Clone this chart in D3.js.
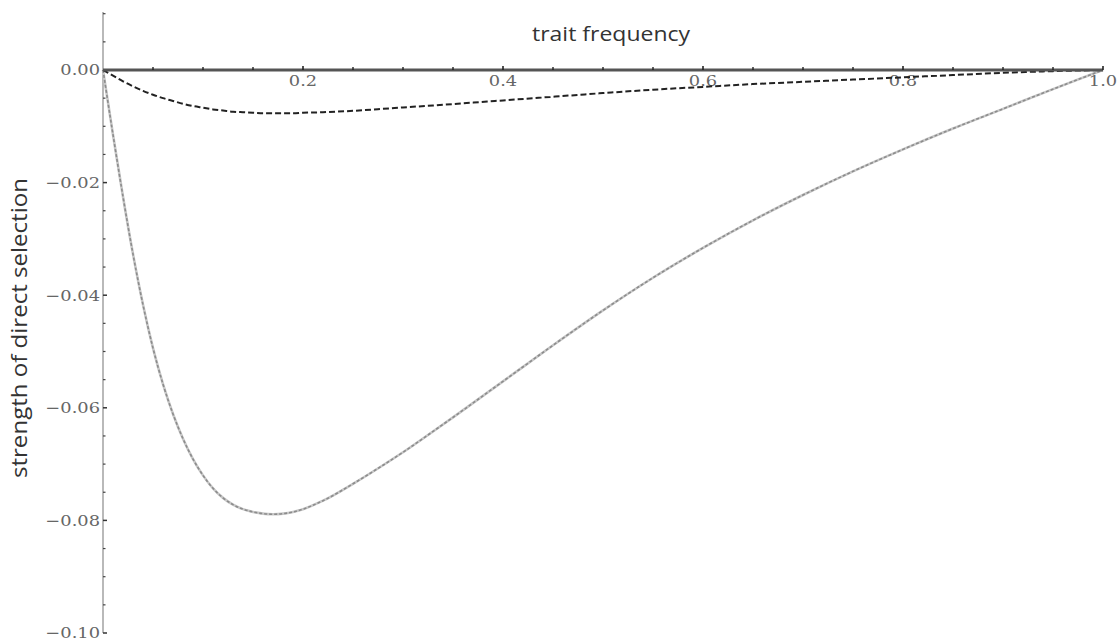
<!DOCTYPE html>
<html>
<head>
<meta charset="utf-8">
<script src="https://cdn.jsdelivr.net/npm/d3@7"></script>
<style>
  html, body { margin: 0; padding: 0; background: #fff; }
  svg { display: block; }
</style>
</head>
<body>
<svg id="chart" width="1118" height="643"></svg>
<script>
// ---- data ----
const freqs = [0, 0.01, 0.02, 0.03, 0.04, 0.05, 0.06, 0.07, 0.08, 0.09, 0.10, 0.11, 0.12, 0.13, 0.14, 0.15, 0.16, 0.17, 0.18, 0.19, 0.20, 0.22, 0.25, 0.28, 0.30, 0.33, 0.35, 0.40, 0.45, 0.50, 0.55, 0.60, 0.65, 0.70, 0.75, 0.80, 0.85, 0.90, 0.95, 1.00];
const strongSelection = [0, -0.0115, -0.0225, -0.0327, -0.0417, -0.0494, -0.0558, -0.0611, -0.0655, -0.0691, -0.0720, -0.0743, -0.0760, -0.0772, -0.0780, -0.0785, -0.0788, -0.0789, -0.0788, -0.0785, -0.0780, -0.0765, -0.0735, -0.0702, -0.0679, -0.0642, -0.0617, -0.0553, -0.0489, -0.0427, -0.0369, -0.0316, -0.0267, -0.0222, -0.0180, -0.0141, -0.0104, -0.0069, -0.0034, 0];
const weakSelection = [0, -0.0010, -0.0020, -0.0029, -0.0037, -0.0044, -0.0050, -0.0055, -0.0060, -0.0064, -0.0067, -0.0070, -0.0072, -0.0074, -0.0075, -0.0076, -0.0077, -0.0077, -0.0077, -0.0077, -0.0076, -0.0075, -0.00725, -0.0069, -0.00665, -0.0063, -0.00605, -0.0054, -0.00475, -0.0041, -0.0035, -0.0030, -0.0025, -0.0021, -0.0017, -0.0013, -0.0009, -0.0005, -0.0002, 0];
const noSelectionFreqs = [0, 1];
const noSelection = [0, 0];

const xMajorTicks = [0.2, 0.4, 0.6, 0.8, 1.0];
const xMajorLabels = ["0.2", "0.4", "0.6", "0.8", "1.0"];
const yMajorTicks = [0.00, -0.02, -0.04, -0.06, -0.08, -0.10];
const yMajorLabels = ["0.00", "\u22120.02", "\u22120.04", "\u22120.06", "\u22120.08", "\u22120.10"];
const xTitle = "trait frequency";
const yTitle = "strength of direct selection";

// ---- layout ----
const svg = d3.select("#chart");
const x = d3.scaleLinear().domain([0, 1]).range([103, 1103]);
const y = d3.scaleLinear().domain([-0.10, 0]).range([633, 70]);
const yTop = 0.0103;

const tickFont = "'DejaVu Serif', 'Liberation Serif', serif";
const titleFont = "'Open Sans', 'Noto Sans', sans-serif";
const tickStretch = 1.15;

function stretch(sel, factor) {
  sel.each(function () {
    const len = this.getComputedTextLength();
    d3.select(this).attr("textLength", len * factor).attr("lengthAdjust", "spacingAndGlyphs");
  });
}

// minor tick values
const xMinor = d3.range(1, 20).map(i => i * 0.05).filter(v => !xMajorTicks.some(m => Math.abs(m - v) < 1e-9));
const yMinor = d3.range(-20, 3).map(i => i * 0.005).filter(v => !yMajorTicks.some(m => Math.abs(m - v) < 1e-9));

// y axis line
svg.append("line")
  .attr("x1", x(0)).attr("x2", x(0))
  .attr("y1", y(yTop)).attr("y2", y(-0.10))
  .attr("stroke", "#8a8a8a").attr("stroke-width", 1.2);

// y ticks
svg.append("g").selectAll("line").data(yMajorTicks).join("line")
  .attr("x1", x(0)).attr("x2", x(0) + 4)
  .attr("y1", d => y(d)).attr("y2", d => y(d))
  .attr("stroke", "#333").attr("stroke-width", 1.5);
svg.append("g").selectAll("line").data(yMinor).join("line")
  .attr("x1", x(0)).attr("x2", x(0) + 2.5)
  .attr("y1", d => y(d)).attr("y2", d => y(d))
  .attr("stroke", "#444").attr("stroke-width", 1.2);

// y tick labels
svg.append("g").selectAll("text").data(yMajorTicks).join("text")
  .attr("x", x(0) - 3)
  .attr("y", d => y(d))
  .attr("dy", "0.35em")
  .attr("text-anchor", "end")
  .attr("font-family", tickFont)
  .attr("font-size", 15.5)
  .attr("fill", "#666")
  .text((d, i) => yMajorLabels[i])
  .call(stretch, tickStretch);

// x axis line
svg.append("line")
  .attr("x1", x(0)).attr("x2", x(1))
  .attr("y1", y(0)).attr("y2", y(0))
  .attr("stroke", "#8a8a8a").attr("stroke-width", 1.2);

// x tick labels
svg.append("g").selectAll("text").data(xMajorTicks).join("text")
  .attr("x", d => x(d))
  .attr("y", y(0) + 16)
  .attr("text-anchor", "middle")
  .attr("font-family", tickFont)
  .attr("font-size", 15.5)
  .attr("fill", "#666")
  .text((d, i) => xMajorLabels[i])
  .call(stretch, tickStretch);

// series lines
const line = d3.line()
  .x(d => x(d[0]))
  .y(d => y(d[1]))
  .curve(d3.curveMonotoneX);

const strongPts = freqs.map((f, i) => [f, strongSelection[i]]);
const weakPts = freqs.map((f, i) => [f, weakSelection[i]]);
const zeroPts = noSelectionFreqs.map((f, i) => [f, noSelection[i]]);

svg.append("path").datum(strongPts)
  .attr("d", line).attr("fill", "none")
  .attr("stroke", "#c8c8c8").attr("stroke-width", 2.6);
svg.append("path").datum(strongPts)
  .attr("d", line).attr("fill", "none")
  .attr("stroke", "#8c8c8c").attr("stroke-width", 1.6)
  .attr("stroke-dasharray", "3,2");

svg.append("path").datum(weakPts)
  .attr("d", line).attr("fill", "none")
  .attr("stroke", "#222").attr("stroke-width", 2)
  .attr("stroke-dasharray", "6,3");

svg.append("path").datum(zeroPts)
  .attr("d", line).attr("fill", "none")
  .attr("stroke", "#555").attr("stroke-width", 3);

// x ticks
svg.append("g").selectAll("line").data(xMajorTicks).join("line")
  .attr("x1", d => x(d)).attr("x2", d => x(d))
  .attr("y1", y(0)).attr("y2", y(0) - 4)
  .attr("stroke", "#222").attr("stroke-width", 1.6);
svg.append("g").selectAll("line").data(xMinor).join("line")
  .attr("x1", d => x(d)).attr("x2", d => x(d))
  .attr("y1", y(0)).attr("y2", y(0) - 3)
  .attr("stroke", "#222").attr("stroke-width", 1.4);

// titles
svg.append("text")
  .attr("x", 611).attr("y", 41)
  .attr("text-anchor", "middle")
  .attr("font-family", titleFont)
  .attr("font-size", 20.5)
  .attr("fill", "#333")
  .attr("textLength", 158)
  .attr("lengthAdjust", "spacingAndGlyphs")
  .text(xTitle);

svg.append("text")
  .attr("transform", "translate(27,328) rotate(-90)")
  .attr("text-anchor", "middle")
  .attr("font-family", titleFont)
  .attr("font-size", 21)
  .attr("fill", "#333")
  .attr("textLength", 300)
  .attr("lengthAdjust", "spacingAndGlyphs")
  .text(yTitle);
</script>
</body>
</html>
